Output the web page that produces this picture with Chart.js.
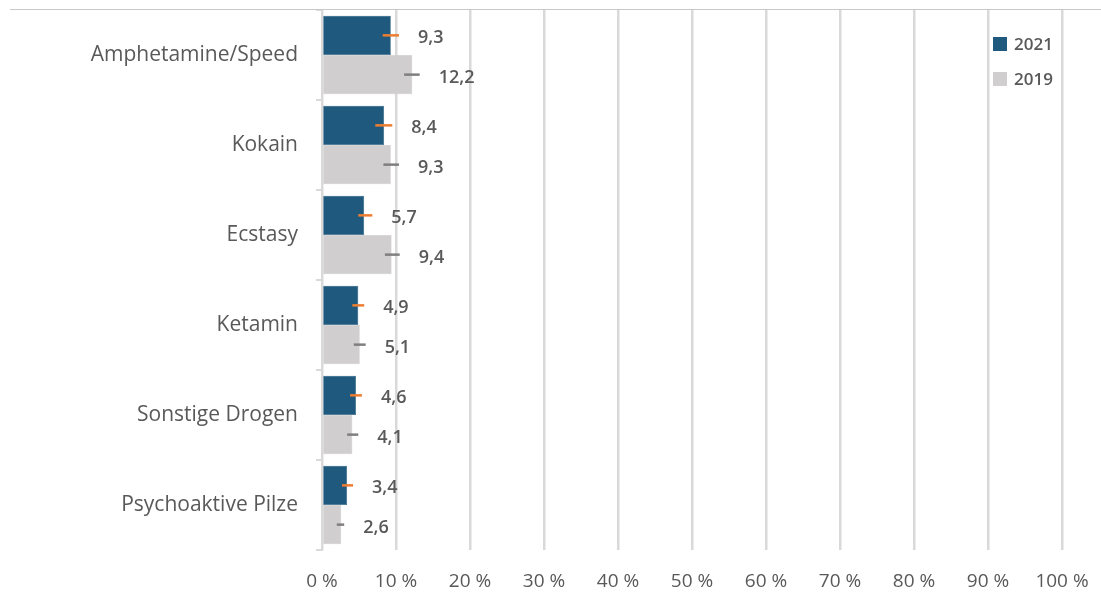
<!DOCTYPE html>
<html>
<head>
<meta charset="utf-8">
<script src="https://cdn.jsdelivr.net/npm/chart.js"></script>
<style>
  body { margin: 0; background: #fff; font-family: "Open Sans", sans-serif; }
  #wrap { position: relative; width: 1101px; height: 596px; }
  #topline { position: absolute; left: 10px; right: 0; top: 9px; height: 1px; background: #c8c8c8; }
  .leg { position: absolute; left: 993px; font-size: 17px; font-weight: 600; color: #595959; line-height: 20px; }
  .leg span { display: inline-block; width: 14px; height: 14px; margin-right: 7px; vertical-align: -1px; }
</style>
</head>
<body>
<div id="wrap">
  <canvas id="drugChart"></canvas>
  <div id="topline"></div>
  <div class="leg" style="top:34px"><span style="background:#1f5a7e"></span>2021</div>
  <div class="leg" style="top:69px"><span style="background:#d0cece"></span>2019</div>
</div>
<script>
const CATEGORIES = ["Amphetamine/Speed", "Kokain", "Ecstasy", "Ketamin", "Sonstige Drogen", "Psychoaktive Pilze"];
const VALUES_2021 = [9.3, 8.4, 5.7, 4.9, 4.6, 3.4];
const VALUES_2019 = [12.2, 9.3, 9.4, 5.1, 4.1, 2.6];
// confidence intervals
const ERR_LOW_2021 = [8.2, 7.2, 4.9, 4.1, 3.8, 2.7];
const ERR_HIGH_2021 = [10.4, 9.5, 6.8, 5.7, 5.4, 4.2];
const ERR_LOW_2019 = [11.1, 8.3, 8.5, 4.3, 3.4, 2.0];
const ERR_HIGH_2019 = [13.2, 10.4, 10.5, 5.9, 4.9, 3.0];

const TEXT = "#595959";

// ====== Whiskers + value labels ======
const whiskerPlugin = {
  id: "whiskers",
  afterDatasetsDraw(chart) {
    const ctx = chart.ctx;
    const x = chart.scales.x;
    const sets = [
      { lo: ERR_LOW_2021, hi: ERR_HIGH_2021, vals: VALUES_2021, color: "#ed7d31" },
      { lo: ERR_LOW_2019, hi: ERR_HIGH_2019, vals: VALUES_2019, color: "#7f7f7f" }
    ];
    sets.forEach((s, di) => {
      const meta = chart.getDatasetMeta(di);
      meta.data.forEach((bar, i) => {
        const x1 = x.getPixelForValue(s.lo[i]);
        const x2 = x.getPixelForValue(s.hi[i]);
        ctx.save();
        ctx.strokeStyle = s.color;
        ctx.lineWidth = 2.5;
        ctx.beginPath();
        ctx.moveTo(x1, bar.y);
        ctx.lineTo(x2, bar.y);
        ctx.stroke();
        ctx.fillStyle = TEXT;
        ctx.font = "600 18px 'Open Sans'";
        ctx.textBaseline = "middle";
        ctx.textAlign = "left";
        ctx.fillText(String(s.vals[i]).replace(".", ","), x2 + 19, bar.y + 3);
        ctx.restore();
      });
    });
  }
};

// ====== Chart Setup ======
let ctx = document.getElementById("drugChart").getContext("2d");
let chart = new Chart(ctx, {
  type: "bar",
  data: {
    labels: CATEGORIES,
    datasets: [
      { label: "2021", data: VALUES_2021, backgroundColor: "#1f5a7e", borderColor: "#1a4f70", borderWidth: 0.5 },
      { label: "2019", data: VALUES_2019, backgroundColor: "#d0cece", borderColor: "#c4c2c2", borderWidth: 0.5 }
    ]
  },
  options: {
    indexAxis: "y",
    responsive: true,
    maintainAspectRatio: false,
    animation: false,
    categoryPercentage: 0.873,
    barPercentage: 1,
    layout: { padding: { top: 10, right: 39, left: 0, bottom: 0 } },
    plugins: { legend: { display: false }, tooltip: { enabled: false } },
    scales: {
      x: {
        min: 0,
        max: 100,
        ticks: {
          stepSize: 10,
          padding: 20,
          color: TEXT,
          font: { family: "Open Sans", size: 19 },
          callback: v => v + " %"
        },
        grid: { color: "#d9d9d9", lineWidth: 2.5, drawTicks: false },
        border: { display: false },
        afterFit: s => { s.height = 46; s.paddingLeft = 0; s.paddingRight = 0; }
      },
      y: {
        ticks: {
          padding: 18,
          color: TEXT,
          font: { family: "Open Sans", size: 21 }
        },
        grid: { offset: true, drawOnChartArea: false, drawTicks: true, tickLength: 6, color: "#d9d9d9", lineWidth: 2 },
        border: { display: true, color: "#d9d9d9", width: 2 },
        afterFit: s => { s.width = 322; s.paddingTop = 0; s.paddingBottom = 0; }
      }
    }
  },
  plugins: [whiskerPlugin]
});
</script>
</body>
</html>
